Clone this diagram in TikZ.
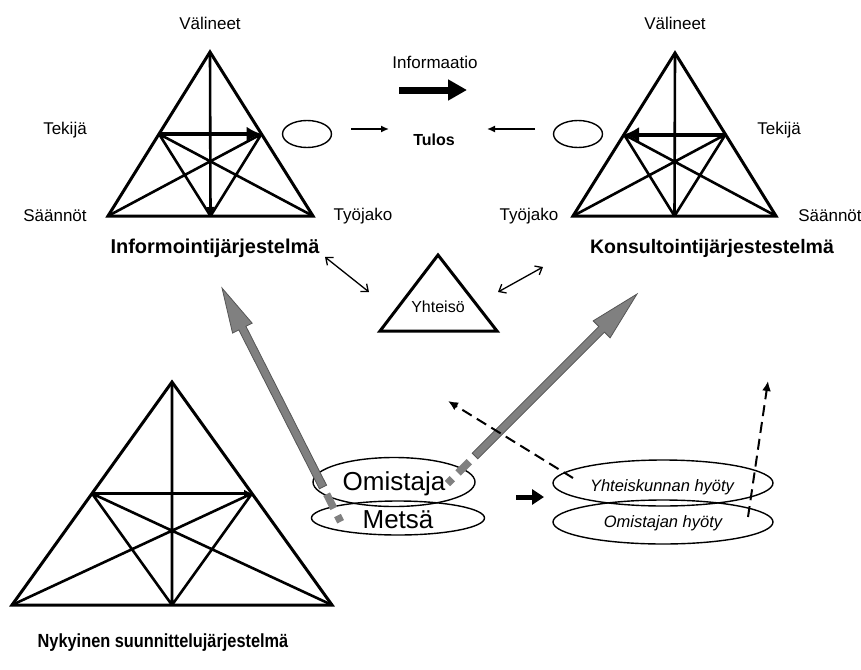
\documentclass[tikz,border=0pt]{standalone}
\usepackage{fontspec}
\setmainfont{Liberation Sans}
\usetikzlibrary{arrows.meta,calc,shapes.geometric}

\definecolor{gfill}{HTML}{808080}
\definecolor{gline}{HTML}{555555}

% broad grey block arrow: tail, tip, shaft half width, head length, head half width
\newcommand{\blockarrow}[5]{%
  \coordinate (bt) at (#1);
  \coordinate (bp) at (#2);
  \coordinate (bh) at ($(bp)!#4!(bt)$);
  \filldraw[fill=gfill,draw=gline,line width=0.8pt,line join=miter]
    ($(bt)!#3!90:(bp)$) -- ($(bh)!#3!90:(bp)$) -- ($(bh)!#5!90:(bp)$) -- (bp)
    -- ($(bh)!#5!-90:(bp)$) -- ($(bh)!#3!-90:(bp)$) -- ($(bt)!#3!-90:(bp)$) -- cycle;
}

\begin{document}
\begin{tikzpicture}[x=1pt,y=-1pt,
  tri/.style={line width=3pt,line join=miter},
  inner/.style={line width=2.6pt},
  lbl/.style={font=\fontsize{17}{20}\selectfont,inner sep=0pt},
  title/.style={font=\bfseries\fontsize{20}{24}\selectfont,inner sep=0pt},
  oval/.style={draw,ellipse,line width=1.4pt,inner sep=0pt},
  thin/.style={line width=1.5pt,-{Latex[length=8pt,width=7pt]}},
  both/.style={line width=1.3pt,{Straight Barb[length=6pt,width=10pt]}-{Straight Barb[length=6pt,width=10pt]}},
  dasharrow/.style={line width=2pt,dash pattern=on 11pt off 6pt,-{Latex[length=10pt,width=9pt]}},
  greytail/.style={line width=7.5pt,draw=gfill,dash pattern=on 0pt off 8pt on 16pt off 8pt on 7pt off 100pt}
]
\useasboundingbox (0,0) rectangle (861,669);

% ---------- Informointijärjestelmä ----------
\coordinate (a1) at (210,52);
\coordinate (l1) at (108,216);
\coordinate (r1) at (313,216);
\coordinate (ml1) at ($(a1)!0.5!(l1)$);
\coordinate (mr1) at ($(a1)!0.5!(r1)$);
\coordinate (mb1) at ($(l1)!0.5!(r1)$);
\draw[inner] (ml1) -- (r1) (ml1) -- (mb1) (mr1) -- (l1) (mr1) -- (mb1);
\draw[inner,-{Latex[length=9pt,width=9pt]}] (a1) -- (mb1);
\draw[line width=4pt,-{Latex[length=15pt,width=15pt]}] (ml1) -- (mr1);
\draw[tri] (a1) -- (l1) -- (r1) -- cycle;
\node[lbl] (v1) at (210,23) {Välineet};
\node[lbl] (k1) at (65,130) {Tekijä};
\node[lbl] (s1) at (55,216) {Säännöt};
\node[lbl] (t1) at (363,216) {Työjako};
\node[title] (info) at (215,248) {Informointijärjestelmä};

% ---------- Konsultointijärjestestelmä ----------
\coordinate (a2) at (675,53);
\coordinate (l2) at (573,216);
\coordinate (r2) at (776,216);
\coordinate (ml2) at ($(a2)!0.5!(l2)$);
\coordinate (mr2) at ($(a2)!0.5!(r2)$);
\coordinate (mb2) at ($(l2)!0.5!(r2)$);
\draw[inner] (ml2) -- (r2) (ml2) -- (mb2) (mr2) -- (l2) (mr2) -- (mb2) (a2) -- (mb2);
\draw[line width=4pt,-{Latex[length=15pt,width=15pt]}] (mr2) -- (ml2);
\draw[tri] (a2) -- (l2) -- (r2) -- cycle;
\node[lbl] (v2) at (675,23) {Välineet};
\node[lbl] (k2) at (779,130) {Tekijä};
\node[lbl] (s2) at (830,216) {Säännöt};
\node[lbl] (t2) at (529,216) {Työjako};
\node[title,font=\bfseries\fontsize{19.5}{24}\selectfont] (kons) at (712,248) {Konsultointijärjestestelmä};

% ---------- Nykyinen suunnittelujärjestelmä ----------
\coordinate (a3) at (172,382);
\coordinate (l3) at (12,605);
\coordinate (r3) at (332,605);
\coordinate (ml3) at ($(a3)!0.5!(l3)$);
\coordinate (mr3) at ($(a3)!0.5!(r3)$);
\coordinate (mb3) at ($(l3)!0.5!(r3)$);
\draw[inner] (ml3) -- (r3) (ml3) -- (mb3) (mr3) -- (l3) (mr3) -- (mb3) (a3) -- (mb3);
\draw[inner,-{Latex[length=8pt,width=8pt]}] (ml3) -- (mr3);
\draw[tri] (a3) -- (l3) -- (r3) -- cycle;
\node[inner sep=0pt] (nyky) at (163,643)
  {\scalebox{0.86}[1]{\bfseries\fontsize{19}{22}\selectfont Nykyinen suunnittelujärjestelmä}};

% ---------- Informaatio and Tulos ----------
\node[lbl] (infa) at (435,62) {Informaatio};
\coordinate (ia) at (399,90);
\coordinate (ib) at (467,90);
\draw[line width=7pt,-{Triangle[length=19pt,width=20pt]}] (ia) -- (ib);
\node[font=\bfseries\fontsize{16}{19}\selectfont,inner sep=0pt] (tulos) at (434,140) {Tulos};
\node[oval,minimum width=49pt,minimum height=27pt] (o1) at (307,134) {};
\node[oval,minimum width=49pt,minimum height=27pt] (o2) at (578,134) {};
\coordinate (p1) at (351,129);
\coordinate (q1) at (389,129);
\coordinate (p2) at (535,129);
\coordinate (q2) at (487,129);
\draw[thin] (p1) -- (q1);
\draw[thin] (p2) -- (q2);

% ---------- Yhteisö ----------
\draw[tri] (438,255) -- (380,331) -- (497,331) -- cycle;
\node[lbl,font=\fontsize{16}{19}\selectfont] (yht) at (438,307) {Yhteisö};
\coordinate (d1) at (325,257);
\coordinate (d2) at (369,292);
\coordinate (d3) at (543,267);
\coordinate (d4) at (498,292);
\draw[both] (d1) -- (d2);
\draw[both] (d3) -- (d4);

% ---------- Omistaja / Metsä ----------
\node[oval,minimum width=162pt,minimum height=49pt] (om) at (394,482) {};
\node[oval,minimum width=173pt,minimum height=34pt] (me) at (398,518) {};
\node[font=\fontsize{26}{30}\selectfont,inner sep=0pt] (omt) at (394,484) {Omistaja};
\node[font=\fontsize{26}{30}\selectfont,inner sep=0pt] (met) at (398,520) {Metsä};

% ---------- benefits ----------
\node[oval,minimum width=220pt,minimum height=46pt] (yh) at (663,483) {};
\node[oval,minimum width=220pt,minimum height=44pt] (oh) at (663,522) {};
\node[font=\itshape\fontsize{16.5}{19}\selectfont,inner sep=0pt] (yht2) at (662,487) {Yhteiskunnan hyöty};
\node[font=\itshape\fontsize{16.5}{19}\selectfont,inner sep=0pt] (oht) at (663,523) {Omistajan hyöty};
\coordinate (m1) at (516,497);
\coordinate (m2) at (544,497);
\draw[line width=5pt,-{Triangle[length=12pt,width=15pt]}] (m1) -- (m2);

% ---------- grey block arrows ----------
\coordinate (g1t) at (323,487);
\coordinate (g1p) at (222,288);
\blockarrow{g1t}{g1p}{4pt}{45pt}{11pt}
\draw[greytail] (g1t) -- ($(g1t)!-45pt!(g1p)$);
\coordinate (g2t) at (475,456);
\coordinate (g2p) at (637,294);
\blockarrow{g2t}{g2p}{4pt}{50pt}{12pt}
\draw[greytail] (g2t) -- ($(g2t)!-45pt!(g2p)$);

% ---------- dashed arrows ----------
\coordinate (h1) at (573,478);
\coordinate (h2) at (448,401);
\coordinate (h3) at (748,517);
\coordinate (h4) at (768,381);
\draw[dasharrow] (h1) -- (h2);
\draw[dasharrow] (h3) -- (h4);
\end{tikzpicture}
\end{document}
